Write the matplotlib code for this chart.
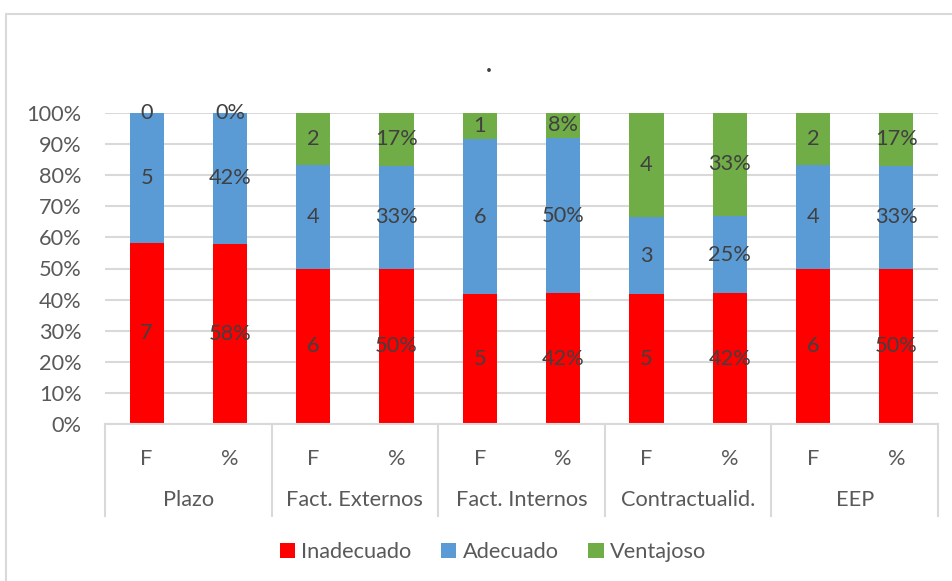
import numpy as np
import matplotlib.pyplot as plt
from matplotlib.patches import Rectangle
from matplotlib.ticker import PercentFormatter

plt.rcParams['font.family'] = ['Lato', 'DejaVu Sans']

# Data
groups = ["Plazo", "Fact. Externos", "Fact. Internos", "Contractualid.", "EEP"]
sub_labels = ["F", "%"]
series = ["Inadecuado", "Adecuado", "Ventajoso"]
colors = ["#FF0000", "#5B9BD5", "#70AD47"]

# frequencies (F) per group
inadecuado_f = [7, 6, 5, 5, 6]
adecuado_f = [5, 4, 6, 3, 4]
ventajoso_f = [0, 2, 1, 4, 2]

# percentages (%) per group
inadecuado_p = [58, 50, 42, 42, 50]
adecuado_p = [42, 33, 50, 25, 33]
ventajoso_p = [0, 17, 8, 33, 17]

# build the 10 bars: F then % for every group
values = []
labels = []
for i in range(len(groups)):
    f = [inadecuado_f[i], adecuado_f[i], ventajoso_f[i]]
    p = [inadecuado_p[i], adecuado_p[i], ventajoso_p[i]]
    values.append(f)
    labels.append([str(v) for v in f])
    values.append(p)
    labels.append([f"{v}%" for v in p])
values = np.array(values, dtype=float)
shares = values / values.sum(axis=1, keepdims=True)

x = np.arange(len(values))
tick_color = "#595959"
label_color = "#404040"
grid_color = "#D9D9D9"
fs = 15.7

fig = plt.figure(figsize=(9.52, 5.81), dpi=100)
ax = fig.add_axes([105 / 952, 1 - 424 / 581, 833 / 952, 311 / 581])

bottom = np.zeros(len(values))
for k, name in enumerate(series):
    ax.bar(x, shares[:, k], 0.41, bottom=bottom, color=colors[k],
           label=name, zorder=2)
    for j in range(len(values)):
        ax.text(x[j], bottom[j] + shares[j, k] / 2, labels[j][k],
                ha="center", va="center", fontsize=fs, color=label_color,
                zorder=3)
    bottom += shares[:, k]

# y axis
ax.set_ylim(0, 1)
ax.set_yticks(np.arange(0, 1.01, 0.1))
ax.yaxis.set_major_formatter(PercentFormatter(1.0, decimals=0))
ax.grid(axis="y", color=grid_color, lw=1.5, zorder=0)
ax.set_axisbelow(True)

# x axis, first level
ax.set_xlim(-0.5, len(values) - 0.5)
ax.set_xticks(x)
ax.set_xticklabels(sub_labels * len(groups))
ax.tick_params(axis="both", length=0, labelsize=fs, colors=tick_color)
ax.tick_params(axis="y", pad=17)
ax.tick_params(axis="x", pad=18)

for s in ["top", "right", "left"]:
    ax.spines[s].set_visible(False)
ax.spines["bottom"].set_color(grid_color)
ax.spines["bottom"].set_linewidth(1.5)

# x axis, second level (groups) with separators
trans = ax.get_xaxis_transform()
for g in range(len(groups) + 1):
    ax.plot([2 * g - 0.5, 2 * g - 0.5], [0, -0.296], color=grid_color,
            lw=1.5, transform=trans, clip_on=False)
for g, name in enumerate(groups):
    ax.text(2 * g + 0.5, -0.245, name, transform=trans, ha="center",
            va="center", fontsize=fs, color=tick_color)

# title is just a dot
fig.text(489 / 952, 1 - 64 / 581, ".", ha="center", va="center",
         fontsize=18, fontweight="bold", color=label_color)

# legend
fig.legend(loc="center", bbox_to_anchor=(493 / 952, 1 - 552 / 581),
           ncol=3, frameon=False, fontsize=fs, labelcolor=tick_color,
           handlelength=0.7, handleheight=0.7, handletextpad=0.3,
           columnspacing=1.35)

# chart border
fig.patches.append(Rectangle((6 / 952, -0.1), 2, 1.1 - 14 / 581,
                             transform=fig.transFigure, fill=False,
                             edgecolor=grid_color, lw=1.5))

fig.savefig("out.png", dpi=100)
